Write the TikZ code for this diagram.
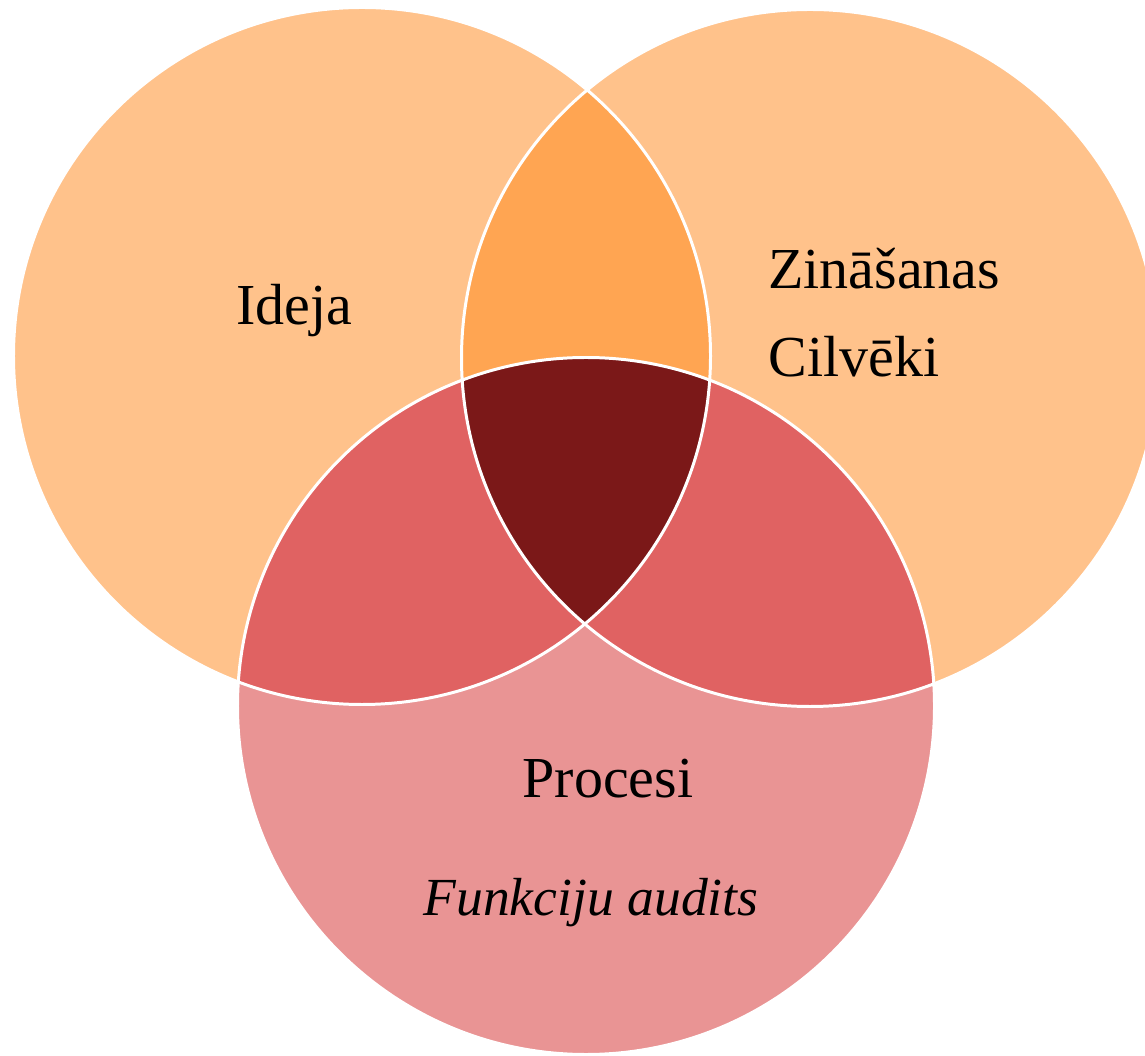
\documentclass[tikz,border=0pt]{standalone}
\usepackage{fontspec}
\setmainfont{Liberation Serif}
\usepackage{tikz}
\usetikzlibrary{positioning}
\definecolor{fillouter}{HTML}{FFC28B}
\definecolor{filllens}{HTML}{FFA552}
\definecolor{fillproc}{HTML}{E99494}
\definecolor{fillpair}{HTML}{E06262}
\definecolor{fillcore}{HTML}{7B1818}
\tikzset{
  ring/.style={draw=white, line width=1.7pt},
  lbl/.style={font=\fontsize{33}{39}\selectfont, inner sep=0pt, text=black},
  lblit/.style={lbl, font=\fontsize{30.5}{37}\selectfont\itshape},
}
\newcommand{\rad}{6.97cm}

\begin{document}
\begin{tikzpicture}
\useasboundingbox (0,0) rectangle (22.9,21.1);
\clip (0,0) rectangle (22.9,21.1);

\coordinate (c_idea) at (7.24, 13.98);
\coordinate (c_know) at (16.20, 13.94);
\coordinate (c_proc) at (11.72, 6.98);

% circles
\fill[fillouter] (c_idea) circle[radius=\rad];
\fill[fillouter] (c_know) circle[radius=\rad];
\fill[fillproc] (c_proc) circle[radius=\rad];

% overlaps
\begin{scope}
  \clip (c_idea) circle[radius=\rad];
  \fill[filllens] (c_know) circle[radius=\rad];
\end{scope}
\begin{scope}
  \clip (c_proc) circle[radius=\rad];
  \fill[fillpair] (c_idea) circle[radius=\rad];
  \fill[fillpair] (c_know) circle[radius=\rad];
\end{scope}
\begin{scope}
  \clip (c_idea) circle[radius=\rad];
  \clip (c_know) circle[radius=\rad];
  \fill[fillcore] (c_proc) circle[radius=\rad];
\end{scope}

% borders
\draw[ring] (c_idea) circle[radius=\rad];
\draw[ring] (c_know) circle[radius=\rad];
\draw[ring] (c_proc) circle[radius=\rad];

% labels
\node[lbl, anchor=base] (t_idea) at (5.88, 14.60) {Ideja};
\node[lbl, anchor=base west] (t_know) at (15.36, 15.32) {Zināšanas};
\node[lbl, anchor=base west] (t_ppl) at (15.36, 13.56) {Cilvēki};
\node[lbl, anchor=base] (t_proc) at (12.16, 5.16) {Procesi};
\node[lblit, anchor=base] (t_audit) at (11.82, 2.80) {Funkciju audits};

\end{tikzpicture}
\end{document}
